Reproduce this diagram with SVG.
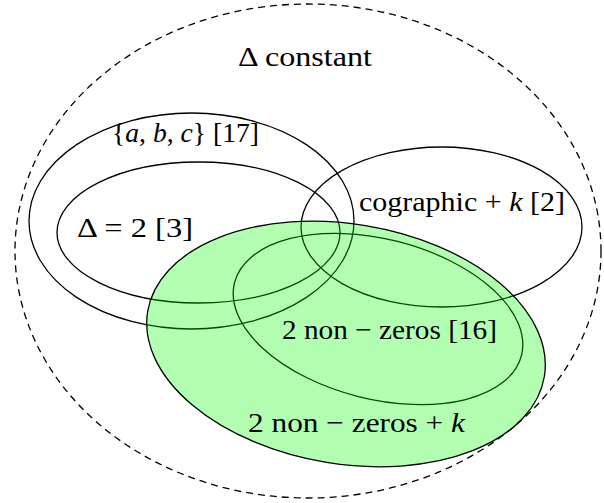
<svg xmlns="http://www.w3.org/2000/svg" width="604" height="503" viewBox="0 0 604 503">
<style>
.e{fill:none;stroke:#000;stroke-width:1.3}
text{font-family:"Liberation Serif","DejaVu Serif",serif;font-size:28px;fill:#000}
.i{font-style:italic}
</style>
<rect width="604" height="503" fill="#fff"/>
<g id="delta-constant">
<ellipse class="e" cx="308" cy="251" rx="293" ry="247" stroke-dasharray="7,5" stroke-width="1.1"/>
<text x="238" y="66" textLength="134" lengthAdjust="spacingAndGlyphs">Δ constant</text>
</g>
<g id="abc">
<ellipse class="e" cx="191.5" cy="221" rx="162.5" ry="108"/>
<text x="112" y="142" textLength="147" lengthAdjust="spacingAndGlyphs">{<tspan class="i">a</tspan>, <tspan class="i">b</tspan>, <tspan class="i">c</tspan>} [17]</text>
</g>
<g id="delta2">
<ellipse class="e" cx="198.5" cy="232.5" rx="141.5" ry="70.5"/>
<text x="77" y="237" textLength="116" lengthAdjust="spacingAndGlyphs">Δ = 2 [3]</text>
</g>
<g id="cographic">
<ellipse class="e" cx="441.5" cy="227" rx="140.5" ry="80"/>
<text x="359" y="211" textLength="206" lengthAdjust="spacingAndGlyphs">cographic + <tspan class="i">k</tspan> [2]</text>
</g>
<g id="nonzeros16">
<ellipse class="e" cx="0" cy="0" rx="148" ry="80" transform="translate(378 319) rotate(14.2)"/>
</g>
<g id="nonzerosk">
<ellipse cx="0" cy="0" rx="201" ry="120" transform="translate(346 344) rotate(9.3)" fill="#00ff00" fill-opacity="0.3" stroke="#000" stroke-width="1.3"/>
<text x="248" y="432" textLength="217" lengthAdjust="spacingAndGlyphs">2 non − zeros + <tspan class="i">k</tspan></text>
</g>
<g id="nonzeros16-label">
<text x="282" y="339" textLength="215" lengthAdjust="spacingAndGlyphs">2 non − zeros [16]</text>
</g>
<g id="connectors"/>
</svg>
